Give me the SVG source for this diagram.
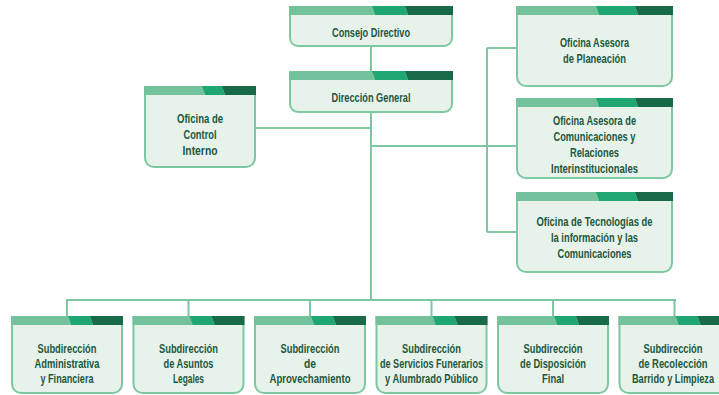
<svg xmlns="http://www.w3.org/2000/svg" width="719" height="395" viewBox="0 0 719 395">
<style>
.box{fill:#e7f2eb;stroke:#7dc8a1;stroke-width:2}
.b1{fill:#74c29b}.b2{fill:#20a673}.b3{fill:#186a49}
.ln{stroke:#7dc8a1;stroke-width:2;fill:none}
.t{font-family:"Liberation Sans Narrow","Liberation Sans",Arial,sans-serif;font-size:12.5px;font-weight:bold;fill:#22573d;text-anchor:middle}
</style>
<rect width="719" height="395" fill="#ffffff"/>
<g id="connectors">
<path class="ln" d="M371 46V72M371 112V300M255 128H371M371 146H487M487 48V232M487 48H517M487 146H517M487 232H517"/>
<path class="ln" d="M66 300H676M67 299V317M188.5 299V317M310 299V317M431.5 299V317M553 299V317M674.5 299V317"/>
</g>
<g id="consejo">
<path class="box" d="M290 7H452V38A8 8 0 0 1 444 46H298A8 8 0 0 1 290 38Z"/>
<polygon class="b1" points="289,6 372,6 375,15 289,15"/><polygon class="b2" points="372,6 405,6 408,15 375,15"/><polygon class="b3" points="405,6 453,6 453,15 408,15"/>
<text class="t" x="371" y="37" textLength="78" lengthAdjust="spacingAndGlyphs">Consejo Directivo</text>
</g>
<g id="direccion">
<path class="box" d="M290 72H452V104A8 8 0 0 1 444 112H298A8 8 0 0 1 290 104Z"/>
<polygon class="b1" points="289,71 372,71 375,80 289,80"/><polygon class="b2" points="372,71 405,71 408,80 375,80"/><polygon class="b3" points="405,71 453,71 453,80 408,80"/>
<text class="t" x="371" y="102" textLength="79" lengthAdjust="spacingAndGlyphs">Dirección General</text>
</g>
<g id="control">
<path class="box" d="M145 87H255V158A9 9 0 0 1 246 167H154A9 9 0 0 1 145 158Z"/>
<polygon class="b1" points="144,86 202,86 205,95 144,95"/><polygon class="b2" points="202,86 222,86 225,95 205,95"/><polygon class="b3" points="222,86 256,86 256,95 225,95"/>
<text class="t" x="200" y="123" textLength="46" lengthAdjust="spacingAndGlyphs">Oficina de</text>
<text class="t" x="200" y="139" textLength="33" lengthAdjust="spacingAndGlyphs">Control</text>
<text class="t" x="200" y="155" textLength="35" lengthAdjust="spacingAndGlyphs">Interno</text>
</g>
<g id="planeacion">
<path class="box" d="M517 7H672V77A9 9 0 0 1 663 86H526A9 9 0 0 1 517 77Z"/>
<polygon class="b1" points="516,6 596,6 599,15 516,15"/><polygon class="b2" points="596,6 635,6 638,15 599,15"/><polygon class="b3" points="635,6 673,6 673,15 638,15"/>
<text class="t" x="594.5" y="47" textLength="69" lengthAdjust="spacingAndGlyphs">Oficina Asesora</text>
<text class="t" x="594.5" y="63" textLength="63" lengthAdjust="spacingAndGlyphs">de Planeación</text>
</g>
<g id="comunicaciones">
<path class="box" d="M517 99H672V169A9 9 0 0 1 663 178H526A9 9 0 0 1 517 169Z"/>
<polygon class="b1" points="516,98 596,98 599,107 516,107"/><polygon class="b2" points="596,98 635,98 638,107 599,107"/><polygon class="b3" points="635,98 673,98 673,107 638,107"/>
<text class="t" x="594.5" y="125" textLength="83" lengthAdjust="spacingAndGlyphs">Oficina Asesora de</text>
<text class="t" x="594.5" y="141" textLength="82" lengthAdjust="spacingAndGlyphs">Comunicaciones y</text>
<text class="t" x="594.5" y="157" textLength="49" lengthAdjust="spacingAndGlyphs">Relaciones</text>
<text class="t" x="594.5" y="173" textLength="87" lengthAdjust="spacingAndGlyphs">Interinstitucionales</text>
</g>
<g id="tecnologias">
<path class="box" d="M517 193H672V263A9 9 0 0 1 663 272H526A9 9 0 0 1 517 263Z"/>
<polygon class="b1" points="516,192 596,192 599,201 516,201"/><polygon class="b2" points="596,192 635,192 638,201 599,201"/><polygon class="b3" points="635,192 673,192 673,201 638,201"/>
<text class="t" x="594.5" y="226" textLength="116" lengthAdjust="spacingAndGlyphs">Oficina de Tecnologías de</text>
<text class="t" x="594.5" y="242" textLength="87" lengthAdjust="spacingAndGlyphs">la información y las</text>
<text class="t" x="594.5" y="258" textLength="74" lengthAdjust="spacingAndGlyphs">Comunicaciones</text>
</g>
<g id="sub-administrativa">
<path class="box" d="M12 317H122V384A9 9 0 0 1 113 393H21A9 9 0 0 1 12 384Z"/>
<polygon class="b1" points="11,316 68,316 71,325 11,325"/><polygon class="b2" points="68,316 90,316 93,325 71,325"/><polygon class="b3" points="90,316 123,316 123,325 93,325"/>
<text class="t" x="67" y="353" textLength="59" lengthAdjust="spacingAndGlyphs">Subdirección</text>
<text class="t" x="67" y="368" textLength="65" lengthAdjust="spacingAndGlyphs">Administrativa</text>
<text class="t" x="67" y="383" textLength="53" lengthAdjust="spacingAndGlyphs">y Financiera</text>
</g>
<g id="sub-legales">
<path class="box" d="M133.5 317H243.5V384A9 9 0 0 1 234.5 393H142.5A9 9 0 0 1 133.5 384Z"/>
<polygon class="b1" points="132.5,316 189.5,316 192.5,325 132.5,325"/><polygon class="b2" points="189.5,316 211.5,316 214.5,325 192.5,325"/><polygon class="b3" points="211.5,316 244.5,316 244.5,325 214.5,325"/>
<text class="t" x="188.5" y="353" textLength="59" lengthAdjust="spacingAndGlyphs">Subdirección</text>
<text class="t" x="188.5" y="368" textLength="50" lengthAdjust="spacingAndGlyphs">de Asuntos</text>
<text class="t" x="188.5" y="383" textLength="31" lengthAdjust="spacingAndGlyphs">Legales</text>
</g>
<g id="sub-aprovechamiento">
<path class="box" d="M255 317H365V384A9 9 0 0 1 356 393H264A9 9 0 0 1 255 384Z"/>
<polygon class="b1" points="254,316 311,316 314,325 254,325"/><polygon class="b2" points="311,316 333,316 336,325 314,325"/><polygon class="b3" points="333,316 366,316 366,325 336,325"/>
<text class="t" x="310" y="353" textLength="59" lengthAdjust="spacingAndGlyphs">Subdirección</text>
<text class="t" x="310" y="368" textLength="12" lengthAdjust="spacingAndGlyphs">de</text>
<text class="t" x="310" y="383" textLength="81" lengthAdjust="spacingAndGlyphs">Aprovechamiento</text>
</g>
<g id="sub-funerarios">
<path class="box" d="M376.5 317H486.5V384A9 9 0 0 1 477.5 393H385.5A9 9 0 0 1 376.5 384Z"/>
<polygon class="b1" points="375.5,316 432.5,316 435.5,325 375.5,325"/><polygon class="b2" points="432.5,316 454.5,316 457.5,325 435.5,325"/><polygon class="b3" points="454.5,316 487.5,316 487.5,325 457.5,325"/>
<text class="t" x="431.5" y="353" textLength="59" lengthAdjust="spacingAndGlyphs">Subdirección</text>
<text class="t" x="431.5" y="368" textLength="103" lengthAdjust="spacingAndGlyphs">de Servicios Funerarios</text>
<text class="t" x="431.5" y="383" textLength="93" lengthAdjust="spacingAndGlyphs">y Alumbrado Público</text>
</g>
<g id="sub-disposicion">
<path class="box" d="M498 317H608V384A9 9 0 0 1 599 393H507A9 9 0 0 1 498 384Z"/>
<polygon class="b1" points="497,316 554,316 557,325 497,325"/><polygon class="b2" points="554,316 576,316 579,325 557,325"/><polygon class="b3" points="576,316 609,316 609,325 579,325"/>
<text class="t" x="553" y="353" textLength="59" lengthAdjust="spacingAndGlyphs">Subdirección</text>
<text class="t" x="553" y="368" textLength="66" lengthAdjust="spacingAndGlyphs">de Disposición</text>
<text class="t" x="553" y="383" textLength="22" lengthAdjust="spacingAndGlyphs">Final</text>
</g>
<g id="sub-recoleccion">
<path class="box" d="M619.5 317H729.5V384A9 9 0 0 1 720.5 393H628.5A9 9 0 0 1 619.5 384Z"/>
<polygon class="b1" points="618.5,316 675.5,316 678.5,325 618.5,325"/><polygon class="b2" points="675.5,316 697.5,316 700.5,325 678.5,325"/><polygon class="b3" points="697.5,316 730.5,316 730.5,325 700.5,325"/>
<text class="t" x="673" y="353" textLength="59" lengthAdjust="spacingAndGlyphs">Subdirección</text>
<text class="t" x="673" y="368" textLength="69" lengthAdjust="spacingAndGlyphs">de Recolección</text>
<text class="t" x="673" y="383" textLength="82" lengthAdjust="spacingAndGlyphs">Barrido y Limpieza</text>
</g>
</svg>
